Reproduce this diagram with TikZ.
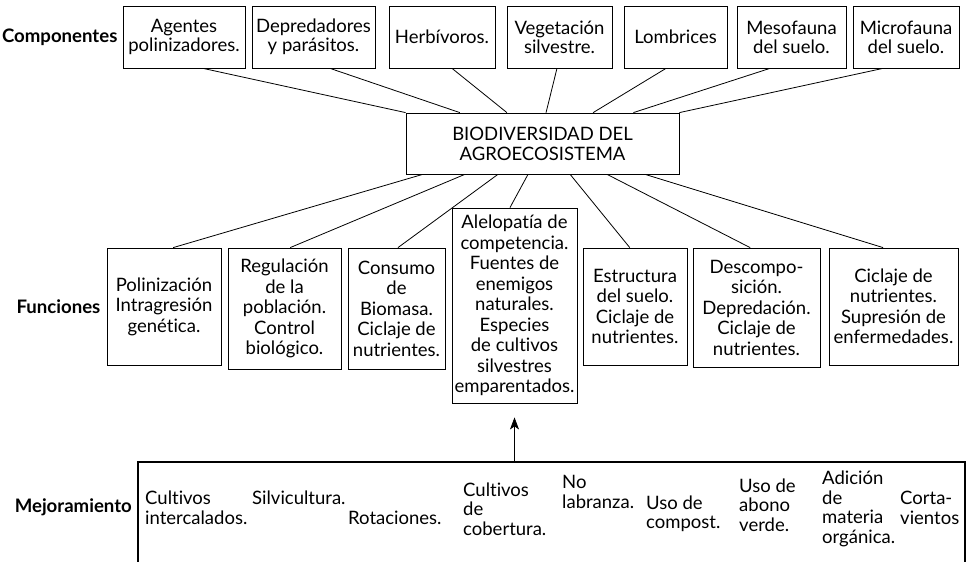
\documentclass[tikz,border=0pt]{standalone}
\usepackage{fontspec}
\setmainfont{Lato}[Ligatures={NoCommon}]
\usetikzlibrary{arrows.meta, calc, positioning}

\begin{document}
\begin{tikzpicture}[x=1pt, y=-1pt, >={Stealth[length=12pt, width=9pt, inset=3pt]}]

% --- Styles ---
\tikzset{
    compBox/.style={draw=black, line width=0.8pt, minimum height=62pt, inner sep=0pt, align=center, font=\fontsize{18.5}{19}\selectfont},
    funcBox/.style={draw=black, line width=0.8pt, inner sep=0pt, align=center, font=\fontsize{18.5}{20.5}\selectfont},
    bioBox/.style={draw=black, line width=0.8pt, minimum width=273pt, minimum height=61pt, inner sep=0pt, align=center, font=\fontsize{18.5}{20}\selectfont},
    mejoraBox/.style={draw=black, line width=2.2pt, inner sep=0pt},
    practica/.style={anchor=west, inner sep=0pt, align=left, font=\fontsize{18.5}{19.5}\selectfont},
    rowLabel/.style={inner sep=0pt, font=\bfseries\fontsize{18.6}{19}\selectfont},
    link/.style={black, line width=0.8pt},
    upArrow/.style={->, black, line width=0.8pt, shorten >=14pt},
}

% --- Frame (the bottom box runs off the page) ---
\useasboundingbox (0,0) rectangle (972,562);
\clip (0,0) rectangle (972,562);

% --- Componentes ---
\node[compBox, minimum width=122pt] (agentes) at (184,37) {Agentes\\polinizadores.};
\node[compBox, minimum width=123pt] (depred) at (313.5,37) {Depredadores\\y parásitos.};
\node[compBox, minimum width=106pt] (herbiv) at (442,37) {Herbívoros.};
\node[compBox, minimum width=105pt] (vegeta) at (559.5,37) {Vegetación\\silvestre.};
\node[compBox, minimum width=103pt] (lombri) at (675.5,37) {Lombrices};
\node[compBox, minimum width=109pt] (mesofa) at (791.5,37) {Mesofauna\\del suelo.};
\node[compBox, minimum width=106pt] (microf) at (906,37) {Microfauna\\del suelo.};
\node[rowLabel, left=5pt of agentes] (lblComp) {Componentes};

% --- Biodiversidad ---
\node[bioBox] (bio) at (542.5,143.5) {BIODIVERSIDAD DEL\\AGROECOSISTEMA};

% --- Funciones ---
\node[funcBox, minimum width=114pt, minimum height=117pt] (polin) at (164,306.5) {Polinización\\Intragresión\\genética.};
\node[funcBox, minimum width=113pt, minimum height=121pt] (regul) at (284.5,308.5) {Regulación\\de la\\población.\\Control\\biológico.};
\node[funcBox, minimum width=97pt, minimum height=121pt] (consum) at (396.5,308.5) {Consumo\\de\\Biomasa.\\Ciclaje de\\nutrientes.};
\node[funcBox, minimum width=125pt, minimum height=195pt] (alelo) at (514.5,305.5) {Alelopatía de\\competencia.\\Fuentes de\\enemigos\\naturales.\\Especies\\de cultivos\\silvestres\\emparentados.};
\node[funcBox, minimum width=104pt, minimum height=117pt] (estruc) at (635,306.5) {Estructura\\del suelo.\\Ciclaje de\\nutrientes.};
\node[funcBox, minimum width=127pt, minimum height=119pt] (descom) at (756.5,307.5) {Descompo-\\sición.\\Depredación.\\Ciclaje de\\nutrientes.};
\node[funcBox, minimum width=129pt, minimum height=117pt] (ciclaj) at (893.5,306.5) {Ciclaje de\\nutrientes.\\Supresión de\\enfermedades.};
\node[rowLabel, left=6pt of polin] (lblFunc) {Funciones};

% --- Mejoramiento ---
\node[mejoraBox, minimum width=827pt, minimum height=160pt, anchor=north] (mejora) at (551.5,461) {};
\node[rowLabel, anchor=east] (lblMejora) at (132,507) {Mejoramiento};

\node[practica] (cultint) at (145,508) {Cultivos\\intercalados.};
\node[practica] (silvic) at (252,498) {Silvicultura.};
\node[practica] (rotac) at (348,518) {Rotaciones.};
\node[practica] (cultcob) at (463,509) {Cultivos\\de\\cobertura.};
\node[practica] (nolab) at (562,492) {No\\labranza.};
\node[practica] (usocomp) at (646,514) {Uso de\\compost.};
\node[practica] (usoabono) at (739,505) {Uso de\\abono\\verde.};
\node[practica] (adicion) at (822,509) {Adición\\de\\materia\\orgánica.};
\node[practica] (cortav) at (900,508) {Corta-\\vientos};

% --- Componentes to Biodiversidad ---
\draw[link] ($(agentes.south west)!0.656!(agentes.south east)$) -- (bio.north west);
\draw[link] ($(depred.south west)!0.634!(depred.south east)$) -- ($(bio.north west)!0.198!(bio.north east)$);
\draw[link] ($(herbiv.south west)!0.594!(herbiv.south east)$) -- ($(bio.north west)!0.37!(bio.north east)$);
\draw[link] ($(vegeta.south west)!0.476!(vegeta.south east)$) -- ($(bio.north west)!0.513!(bio.north east)$);
\draw[link] ($(lombri.south west)!0.408!(lombri.south east)$) -- ($(bio.north west)!0.685!(bio.north east)$);
\draw[link] ($(mesofa.south west)!0.303!(mesofa.south east)$) -- ($(bio.north west)!0.832!(bio.north east)$);
\draw[link] ($(microf.south west)!0.283!(microf.south east)$) -- (bio.north east);

% --- Biodiversidad to Funciones ---
\draw[link] ($(bio.south west)!0.062!(bio.south east)$) -- ($(polin.north west)!0.58!(polin.north east)$);
\draw[link] ($(bio.south west)!0.216!(bio.south east)$) -- ($(regul.north west)!0.55!(regul.north east)$);
\draw[link] ($(bio.south west)!0.337!(bio.south east)$) -- ($(consum.north west)!0.515!(consum.north east)$);
\draw[link] ($(bio.south west)!0.447!(bio.south east)$) -- ($(alelo.north west)!0.464!(alelo.north east)$);
\draw[link] ($(bio.south west)!0.601!(bio.south east)$) -- ($(estruc.north west)!0.45!(estruc.north east)$);
\draw[link] ($(bio.south west)!0.736!(bio.south east)$) -- ($(descom.north west)!0.45!(descom.north east)$);
\draw[link] ($(bio.south west)!0.875!(bio.south east)$) -- ($(ciclaj.north west)!0.42!(ciclaj.north east)$);

% --- Mejoramiento to Funciones ---
\draw[upArrow] (mejora.north -| alelo.south) -- (alelo.south);

\end{tikzpicture}
\end{document}
